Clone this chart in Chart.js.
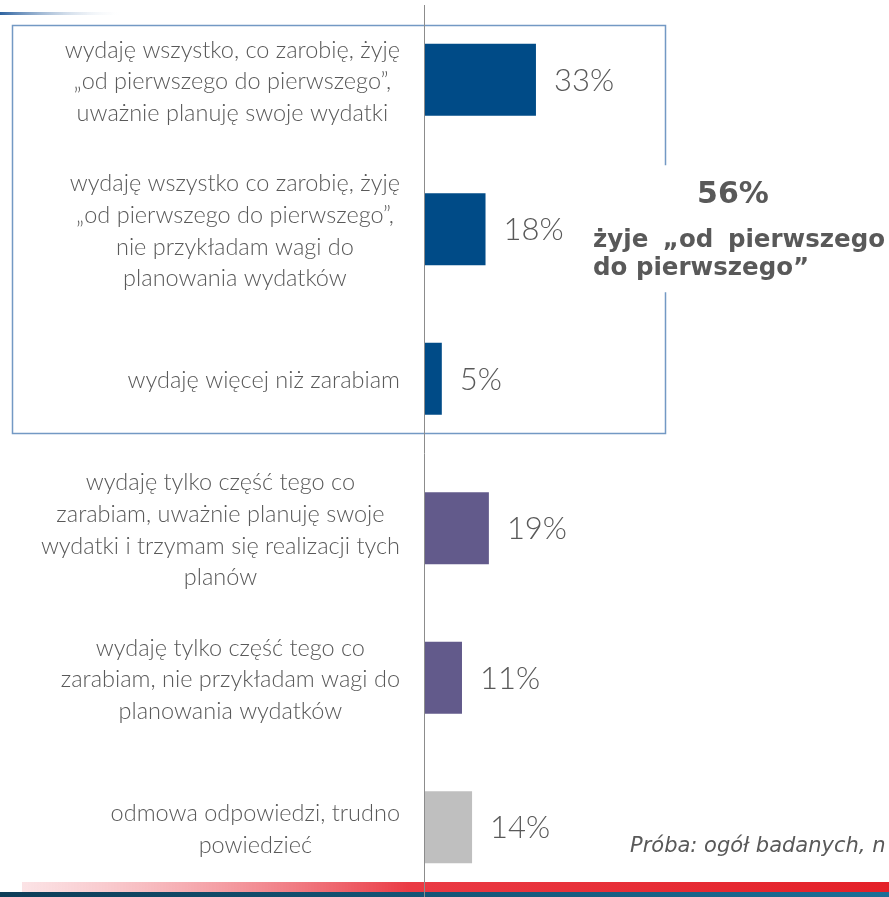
<!DOCTYPE html>
<html><head><meta charset="utf-8">
<script src="https://cdn.jsdelivr.net/npm/chart.js@4"></script>
<style>html,body{margin:0;padding:0;overflow:hidden;background:#fff;width:889px;height:897px}canvas{display:block}</style>
</head><body><canvas id="c" width="889" height="902"></canvas>
<script>
const categories = [
  ["wydaję wszystko, co zarobię, żyję", "„od pierwszego do pierwszego”,", "uważnie planuję swoje wydatki"],
  ["wydaję wszystko co zarobię, żyję", "„od pierwszego do pierwszego”,", "nie przykładam wagi do", "planowania wydatków"],
  ["wydaję więcej niż zarabiam"],
  ["wydaję tylko część tego co", "zarabiam, uważnie planuję swoje", "wydatki i trzymam się realizacji tych", "planów"],
  ["wydaję tylko część tego co", "zarabiam, nie przykładam wagi do", "planowania wydatków"],
  ["odmowa odpowiedzi, trudno", "powiedzieć"]
];
const values = [33, 18, 5, 19, 11, 14];
const valueLabels = ["33%", "18%", "5%", "19%", "11%", "14%"];
const barColors = ["#004b87", "#004b87", "#004b87", "#625a8b", "#625a8b", "#bfbfbf"];
const calloutValue = "56%";
const calloutLines = ["żyje „od pierwszego", "do pierwszego”"];
const footnote = "Próba: ogół badanych, n";

const TEXT = "#595959";

const deco = {
  id: 'deco',
  afterDatasetsDraw(chart) {
    const ctx = chart.ctx, xS = chart.scales.x, yS = chart.scales.y, a = chart.chartArea;
    const x0 = xS.getPixelForValue(0);
    ctx.save();
    // top-left gradient line
    let g = ctx.createLinearGradient(0, 0, 125, 0);
    g.addColorStop(0, '#2e63a0'); g.addColorStop(1, 'rgba(255,255,255,0)');
    ctx.fillStyle = g; ctx.fillRect(0, 12, 125, 3);

    // box around first three categories
    const bTop = Math.round(yS.getPixelForValue(0) - 55) + 0.5;
    const bBot = Math.round(yS.getPixelForValue(2) + 54) + 0.5;
    const bL = 12.5, bR = x0 + 240.5;
    const y1 = yS.getPixelForValue(1);
    ctx.strokeStyle = '#7399c4'; ctx.lineWidth = 1.5;
    ctx.beginPath();
    ctx.moveTo(bR, y1 - 64); ctx.lineTo(bR, bTop); ctx.lineTo(bL, bTop);
    ctx.lineTo(bL, bBot); ctx.lineTo(bR, bBot); ctx.lineTo(bR, y1 + 63);
    ctx.stroke();

    // category labels
    ctx.fillStyle = TEXT;
    ctx.font = '300 23.5px Lato';
    ctx.textAlign = 'center'; ctx.textBaseline = 'middle';
    const lh = 31.7, rightEdge = 400;
    categories.forEach((lines, i) => {
      const yc = yS.getPixelForValue(i) + 2;
      const w = Math.max(...lines.map(l => ctx.measureText(l).width));
      const cx = rightEdge - w / 2;
      lines.forEach((l, j) => {
        ctx.fillText(l, cx, yc + (j - (lines.length - 1) / 2) * lh);
      });
    });

    // value labels
    ctx.font = '300 31px Lato';
    ctx.textAlign = 'left';
    const meta = chart.getDatasetMeta(0);
    meta.data.forEach((bar, i) => {
      ctx.fillText(valueLabels[i], bar.x + 18, bar.y + 1);
    });

    // callout
    ctx.font = 'bold 30px "DejaVu Sans"';
    ctx.textAlign = 'center';
    ctx.fillText(calloutValue, 733, y1 - 34);
    ctx.font = 'bold 24.5px "DejaVu Sans"';
    ctx.textAlign = 'left';
    const words = calloutLines[0].split(' ');
    const ww = words.map(w => ctx.measureText(w).width);
    const total = ww.reduce((s, v) => s + v, 0);
    const gap = (885 - 593 - total) / (words.length - 1);
    let xx = 593;
    words.forEach((w, k) => { ctx.fillText(w, xx, y1 + 11); xx += ww[k] + gap; });
    ctx.fillText(calloutLines[1], 593, y1 + 39);

    // footnote
    ctx.font = 'italic 21px "DejaVu Sans"';
    ctx.fillText(footnote, 630, yS.getPixelForValue(5) + 19);

    // bottom stripes
    g = ctx.createLinearGradient(20, 0, 889, 0);
    g.addColorStop(0, 'rgba(248,200,205,0.5)');
    g.addColorStop(0.45, '#ea3a44');
    g.addColorStop(1, '#e42028');
    ctx.fillStyle = g; ctx.fillRect(22, 882, 867, 10);
    g = ctx.createLinearGradient(0, 0, 889, 0);
    g.addColorStop(0, '#0d3d58'); g.addColorStop(1, '#1b6f97');
    ctx.fillStyle = g; ctx.fillRect(0, 892, 889, 10);

    // axis line
    ctx.strokeStyle = '#8c8c8c'; ctx.lineWidth = 1;
    ctx.beginPath(); ctx.moveTo(Math.round(x0) - 0.5, a.top); ctx.lineTo(Math.round(x0) - 0.5, 902); ctx.stroke();
    ctx.restore();
  }
};

new Chart(document.getElementById('c'), {
  type: 'bar',
  data: {
    labels: categories,
    datasets: [{
      data: values,
      backgroundColor: barColors,
      borderWidth: 0,
      categoryPercentage: 1,
      barPercentage: 0.482
    }]
  },
  options: {
    indexAxis: 'y',
    responsive: false,
    animation: false,
    devicePixelRatio: 1,
    layout: { padding: { left: 425, top: 5, right: 0, bottom: 0 } },
    plugins: { legend: { display: false }, tooltip: { enabled: false } },
    scales: {
      x: { display: false, min: 0, max: 138 },
      y: { display: false }
    }
  },
  plugins: [deco]
});
</script>
</body></html>
